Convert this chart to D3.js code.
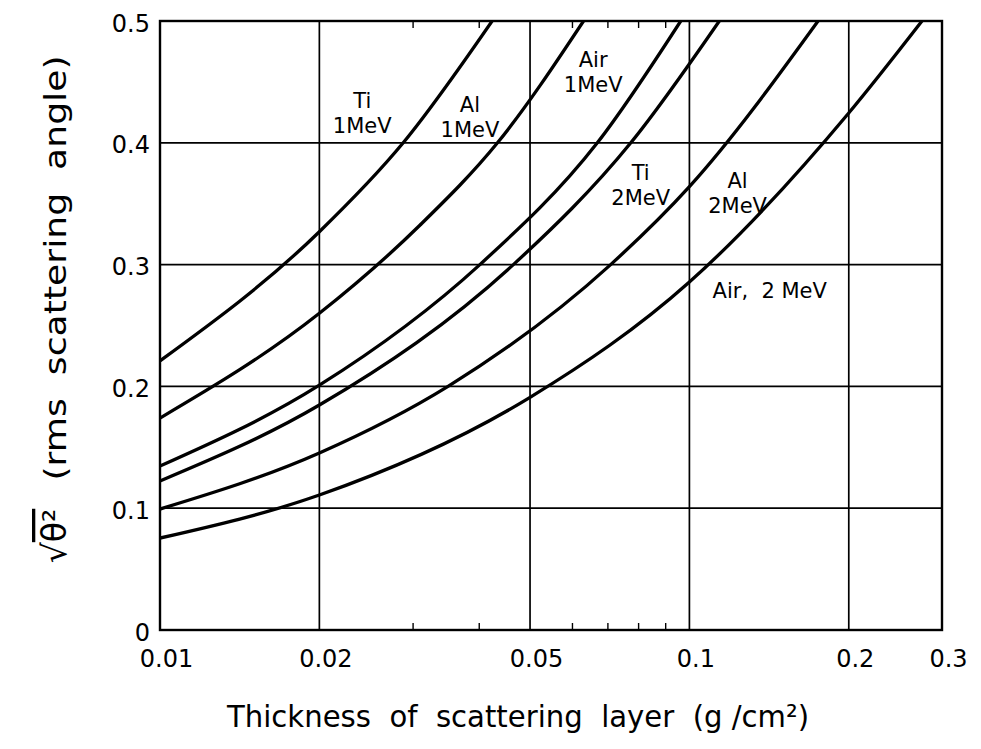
<!DOCTYPE html>
<html>
<head>
<meta charset="utf-8">
<script src="https://cdn.jsdelivr.net/npm/d3@7"></script>
<style>
  html, body { margin: 0; padding: 0; background: #fff; }
  svg { display: block; }
  text { font-family: "DejaVu Sans", "Liberation Sans", sans-serif; fill: #000; white-space: pre; }
</style>
</head>
<body>
<svg id="chart" width="981" height="749"></svg>
<script>
// ---------- data ----------
const xTicks = [0.01, 0.02, 0.05, 0.1, 0.2, 0.3];
const xTickLabels = ["0.01", "0.02", "0.05", "0.1", "0.2", "0.3"];
const xGrid = [0.02, 0.05, 0.1, 0.2];
const xMinor = [0.03, 0.04, 0.06, 0.07, 0.08, 0.09];
const yTicks = [0, 0.1, 0.2, 0.3, 0.4, 0.5];
const yTickLabels = ["0", "0.1", "0.2", "0.3", "0.4", "0.5"];
const yGrid = [0.1, 0.2, 0.3, 0.4];

// [thickness g/cm^2, rms scattering angle]
const ti1MeV  = [[0.01, 0.221], [0.02, 0.327], [0.0288, 0.400], [0.0424, 0.500]];
const al1MeV  = [[0.01, 0.174], [0.02, 0.260], [0.031, 0.3325], [0.0434, 0.400], [0.0631, 0.500]];
const air1MeV = [[0.01, 0.1346], [0.02, 0.201], [0.0402, 0.300], [0.067, 0.400], [0.0963, 0.500]];
const ti2MeV  = [[0.01, 0.1223], [0.02, 0.1847], [0.0465, 0.300], [0.0775, 0.400], [0.1139, 0.500]];
const al2MeV  = [[0.01, 0.0993], [0.02, 0.1453], [0.035, 0.200], [0.071, 0.300], [0.1, 0.364], [0.175, 0.500]];
const air2MeV = [[0.01, 0.0755], [0.02, 0.1108], [0.05, 0.191], [0.1, 0.2857], [0.2, 0.4245], [0.275, 0.500]];
const seriesList = [ti1MeV, al1MeV, air1MeV, ti2MeV, al2MeV, air2MeV];

// curve labels (text lines, anchored in data coordinates)
const labelLines = [["Ti", "1MeV"], ["Al", "1MeV"], ["Air", "1MeV"], ["Ti", "2MeV"], ["Al", "2MeV"], ["Air,  2 MeV"]];
const labelAnchors = [[0.0241, 0.4286], [0.0385, 0.4253], [0.0658, 0.4622], [0.0809, 0.3695], [0.1233, 0.3629], [0.1418, 0.2726]];

const xTitle = "Thickness  of  scattering  layer  (g /cm²)";
const yTitle = "(rms  scattering  angle)";

// ---------- drawing ----------
const svg = d3.select("#chart");
const L = 160, R = 942, T = 21, B = 630;

const x = d3.scaleLog().domain([0.01, 0.3]).range([L, R]);
const y = d3.scaleLinear().domain([0, 0.5]).range([B, T]);

const g = svg.append("g");

// grid
g.selectAll("line.vg").data(xGrid).enter().append("line")
  .attr("x1", d => x(d)).attr("x2", d => x(d)).attr("y1", T).attr("y2", B)
  .attr("stroke", "#000").attr("stroke-width", 1.7);
g.selectAll("line.hg").data(yGrid).enter().append("line")
  .attr("x1", L).attr("x2", R).attr("y1", d => y(d)).attr("y2", d => y(d))
  .attr("stroke", "#000").attr("stroke-width", 1.7);

// minor ticks (bottom and top, inward)
const xAxisB = d3.axisBottom(x).tickValues(xMinor).tickSizeInner(-7).tickSizeOuter(0).tickFormat("");
g.append("g").attr("transform", `translate(0,${B})`).call(xAxisB)
  .call(s => s.select(".domain").remove())
  .selectAll("line").attr("stroke", "#000").attr("stroke-width", 1.4);
const xAxisT = d3.axisTop(x).tickValues(xMinor).tickSizeInner(-7).tickSizeOuter(0).tickFormat("");
g.append("g").attr("transform", `translate(0,${T})`).call(xAxisT)
  .call(s => s.select(".domain").remove())
  .selectAll("line").attr("stroke", "#000").attr("stroke-width", 1.4);

// frame
g.append("rect").attr("x", L).attr("y", T).attr("width", R - L).attr("height", B - T)
  .attr("fill", "none").attr("stroke", "#000").attr("stroke-width", 2.4);

// tick labels
const xl = d3.axisBottom(x).tickValues(xTicks).tickSize(0).tickPadding(20)
  .tickFormat((d, i) => xTickLabels[i]);
const xlg = g.append("g").attr("transform", `translate(0,${B})`).call(xl);
xlg.select(".domain").remove();
xlg.selectAll("text").attr("font-size", 24).attr("font-family", "DejaVu Sans").attr("fill", "#000").attr("dx", 6);

const yl = d3.axisLeft(y).tickValues(yTicks).tickSize(0).tickPadding(10)
  .tickFormat((d, i) => yTickLabels[i]);
const ylg = g.append("g").attr("transform", `translate(${L},0)`).call(yl);
ylg.select(".domain").remove();
ylg.selectAll("text").attr("font-size", 24).attr("font-family", "DejaVu Sans").attr("fill", "#000").attr("dy", "0.42em");

// curves
svg.append("clipPath").attr("id", "plotclip").append("rect")
  .attr("x", L).attr("y", T).attr("width", R - L).attr("height", B - T);
const line = d3.line().x(d => x(d[0])).y(d => y(d[1])).curve(d3.curveMonotoneX);
g.append("g").attr("clip-path", "url(#plotclip)")
  .selectAll("path").data(seriesList).enter().append("path")
  .attr("d", line).attr("fill", "none").attr("stroke", "#000").attr("stroke-width", 3.3)
  .attr("stroke-linecap", "round");

// curve labels
labelLines.forEach((lines, i) => {
  const [t, v] = labelAnchors[i];
  const txt = g.append("text").attr("text-anchor", "middle").attr("font-size", 21)
    .attr("x", x(t)).attr("y", y(v));
  lines.forEach((s, j) => {
    txt.append("tspan").attr("x", x(t)).attr("dy", j === 0 ? 0 : 25).text(s);
  });
});

// x title
g.append("text").attr("x", 518).attr("y", 727).attr("text-anchor", "middle")
  .attr("font-size", 31).attr("textLength", 582).attr("lengthAdjust", "spacingAndGlyphs")
  .text(xTitle);

// y title
g.append("text").attr("transform", "translate(66,268) rotate(-90)").attr("text-anchor", "middle")
  .attr("font-size", 31).attr("textLength", 425).attr("lengthAdjust", "spacingAndGlyphs")
  .text(yTitle);
const rad = g.append("text").attr("transform", "translate(66,536) rotate(-90)").attr("text-anchor", "middle")
  .attr("font-size", 33);
rad.append("tspan").text("√");
rad.append("tspan").attr("text-decoration", "overline").text("θ²");
</script>
</body>
</html>
